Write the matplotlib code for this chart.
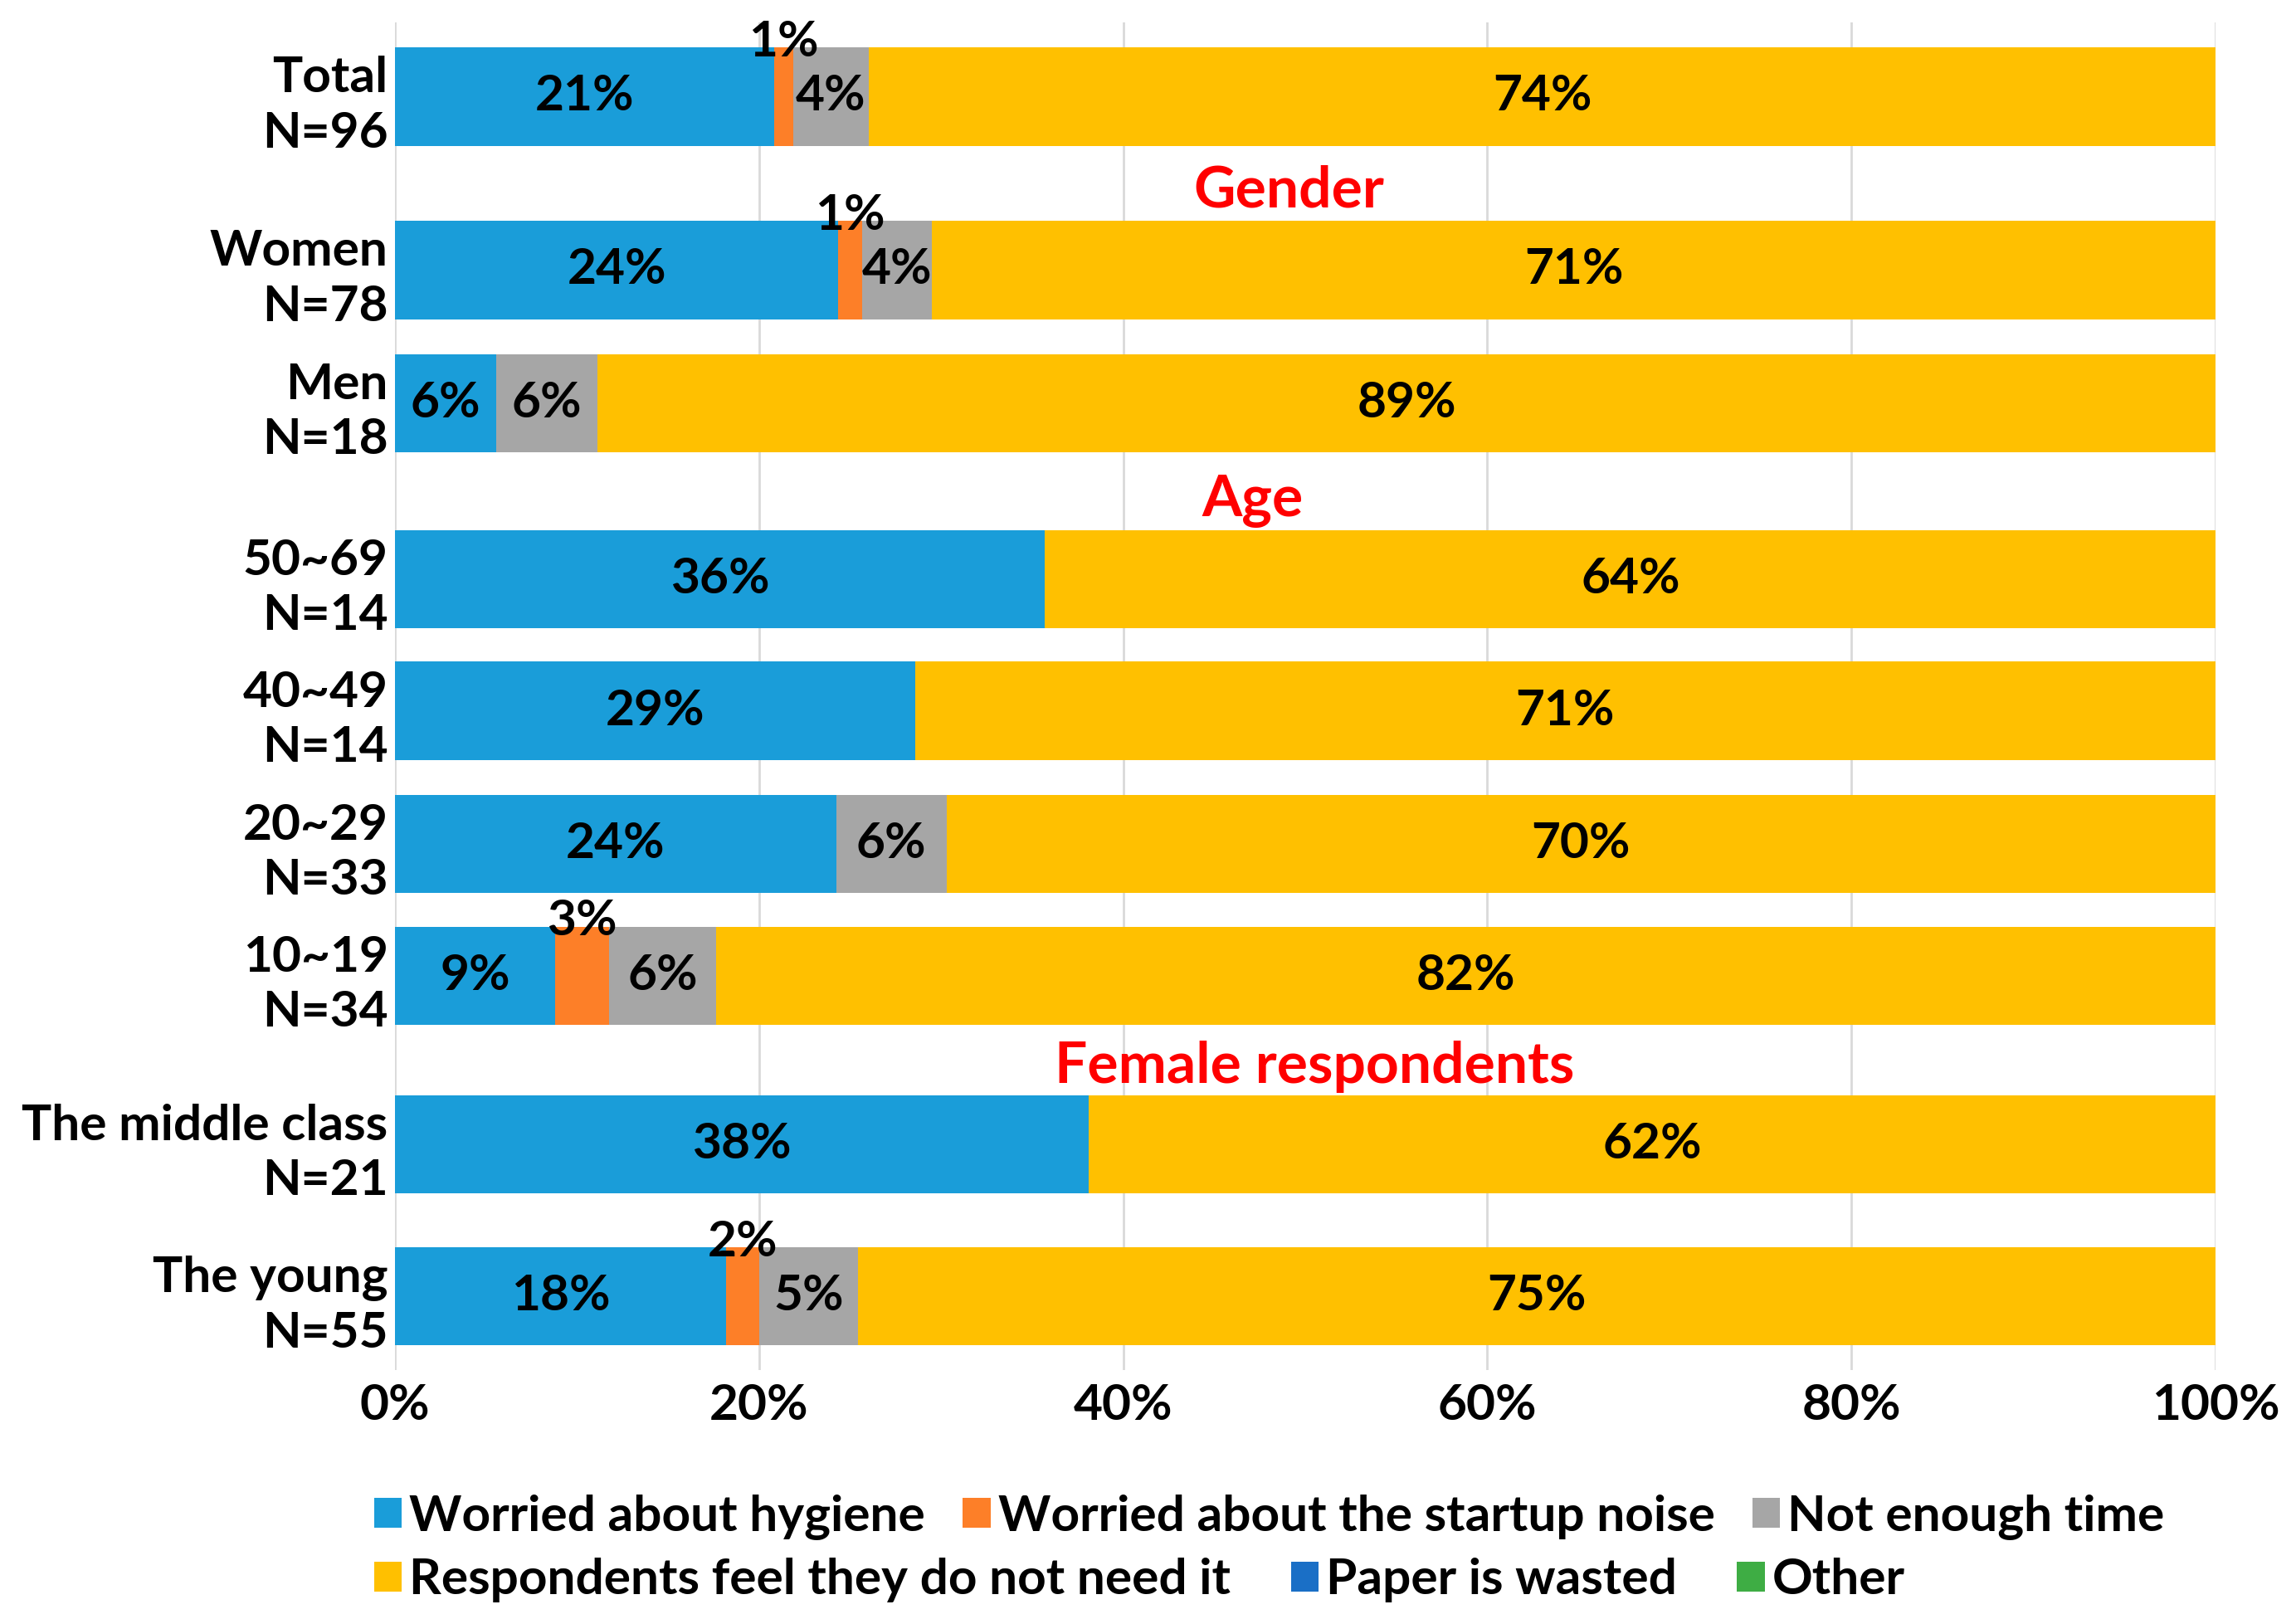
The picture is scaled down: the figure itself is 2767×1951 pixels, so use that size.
import numpy as np
import matplotlib.pyplot as plt

plt.rcParams['font.family'] = ['Lato', 'DejaVu Sans']
plt.rcParams['font.weight'] = 'bold'

groups = ["Total\nN=96", "Women\nN=78", "Men\nN=18", "50~69\nN=14", "40~49\nN=14",
          "20~29\nN=33", "10~19\nN=34", "The middle class\nN=21", "The young\nN=55"]

# percent of respondents per reason
hygiene = [20.83, 24.36, 5.56, 35.71, 28.57, 24.24, 8.82, 38.10, 18.18]
noise = [1.04, 1.28, 0.0, 0.0, 0.0, 0.0, 2.94, 0.0, 1.82]
no_time = [4.17, 3.85, 5.56, 0.0, 0.0, 6.06, 5.88, 0.0, 5.45]
not_needed = [73.96, 70.51, 88.88, 64.29, 71.43, 69.70, 82.36, 61.90, 74.55]
paper = [0, 0, 0, 0, 0, 0, 0, 0, 0]
other = [0, 0, 0, 0, 0, 0, 0, 0, 0]

series_names = ["Worried about hygiene", "Worried about the startup noise", "Not enough time",
                "Respondents feel they do not need it", "Paper is wasted", "Other"]
colors = ["#1A9DD9", "#FD7F28", "#A6A6A6", "#FFC000", "#1A6FC6", "#3EAD44"]

headers = ["Gender", "Age", "Female respondents"]

# layout: bar centres (in picture rows), header anchors
ypos = np.array([65.5, 184, 275, 395, 485, 576, 666, 781, 885])
bar_h = 67
header_xy = [(49.1, 130), (47.1, 342), (50.5, 728)]
fs = 43.5

fig = plt.figure(figsize=(27.67, 19.51), dpi=100)
ax = fig.add_axes([0.172, 0.154, 0.793, 0.832])

data = [hygiene, noise, no_time, not_needed, paper, other]
left = np.zeros(len(groups))
bars = []
for i, vals in enumerate(data):
    vals = np.array(vals, dtype=float)
    b = ax.barh(ypos, vals, height=bar_h, left=left, color=colors[i], label=series_names[i])
    bars.append(b)
    for y, l, v in zip(ypos, left, vals):
        if v <= 0:
            continue
        txt = "%d%%" % int(v + 0.5)
        if i == 1:
            # tiny noise segments: label sits on top of the bar
            ax.text(l + v / 2, y - bar_h / 2 + 6, txt, ha='center', va='baseline',
                    fontsize=fs, fontweight='bold')
        else:
            ax.text(l + v / 2, y, txt, ha='center', va='center',
                    fontsize=fs, fontweight='bold')
    left = left + vals

for h, (hx, hy) in zip(headers, header_xy):
    ax.text(hx, hy, h, ha='center', va='center', color='#FF0000',
            fontsize=50, fontweight='bold')

ax.set_xlim(0, 100)
ax.set_ylim(935, 15)
ax.set_xticks([0, 20, 40, 60, 80, 100])
ax.set_xticklabels(["0%", "20%", "40%", "60%", "80%", "100%"])
ax.set_yticks(ypos)
ax.set_yticklabels(groups)
ax.tick_params(axis='both', length=0, labelsize=fs)
ax.tick_params(axis='y', pad=6)
ax.tick_params(axis='x', pad=12)
for lbl in ax.get_yticklabels():
    lbl.set_linespacing(1.28)
    lbl.set_fontweight('bold')
for lbl in ax.get_xticklabels():
    lbl.set_fontweight('bold')

ax.set_axisbelow(True)
ax.xaxis.grid(True, color='#D9D9D9', linewidth=2)
for s in ax.spines.values():
    s.set_visible(False)

leg_kw = dict(frameon=False, fontsize=fs, handlelength=0.55, handleheight=0.55,
              handletextpad=0.15, borderaxespad=0, borderpad=0,
              ncol=3, loc='center left')
leg1 = fig.legend(bars[:3], series_names[:3], bbox_to_anchor=(0.163, 0.063),
                  columnspacing=0.75, **leg_kw)
leg2 = fig.legend(bars[3:], series_names[3:], bbox_to_anchor=(0.163, 0.024),
                  columnspacing=1.2, **leg_kw)

fig.savefig("out.png", dpi=100)
